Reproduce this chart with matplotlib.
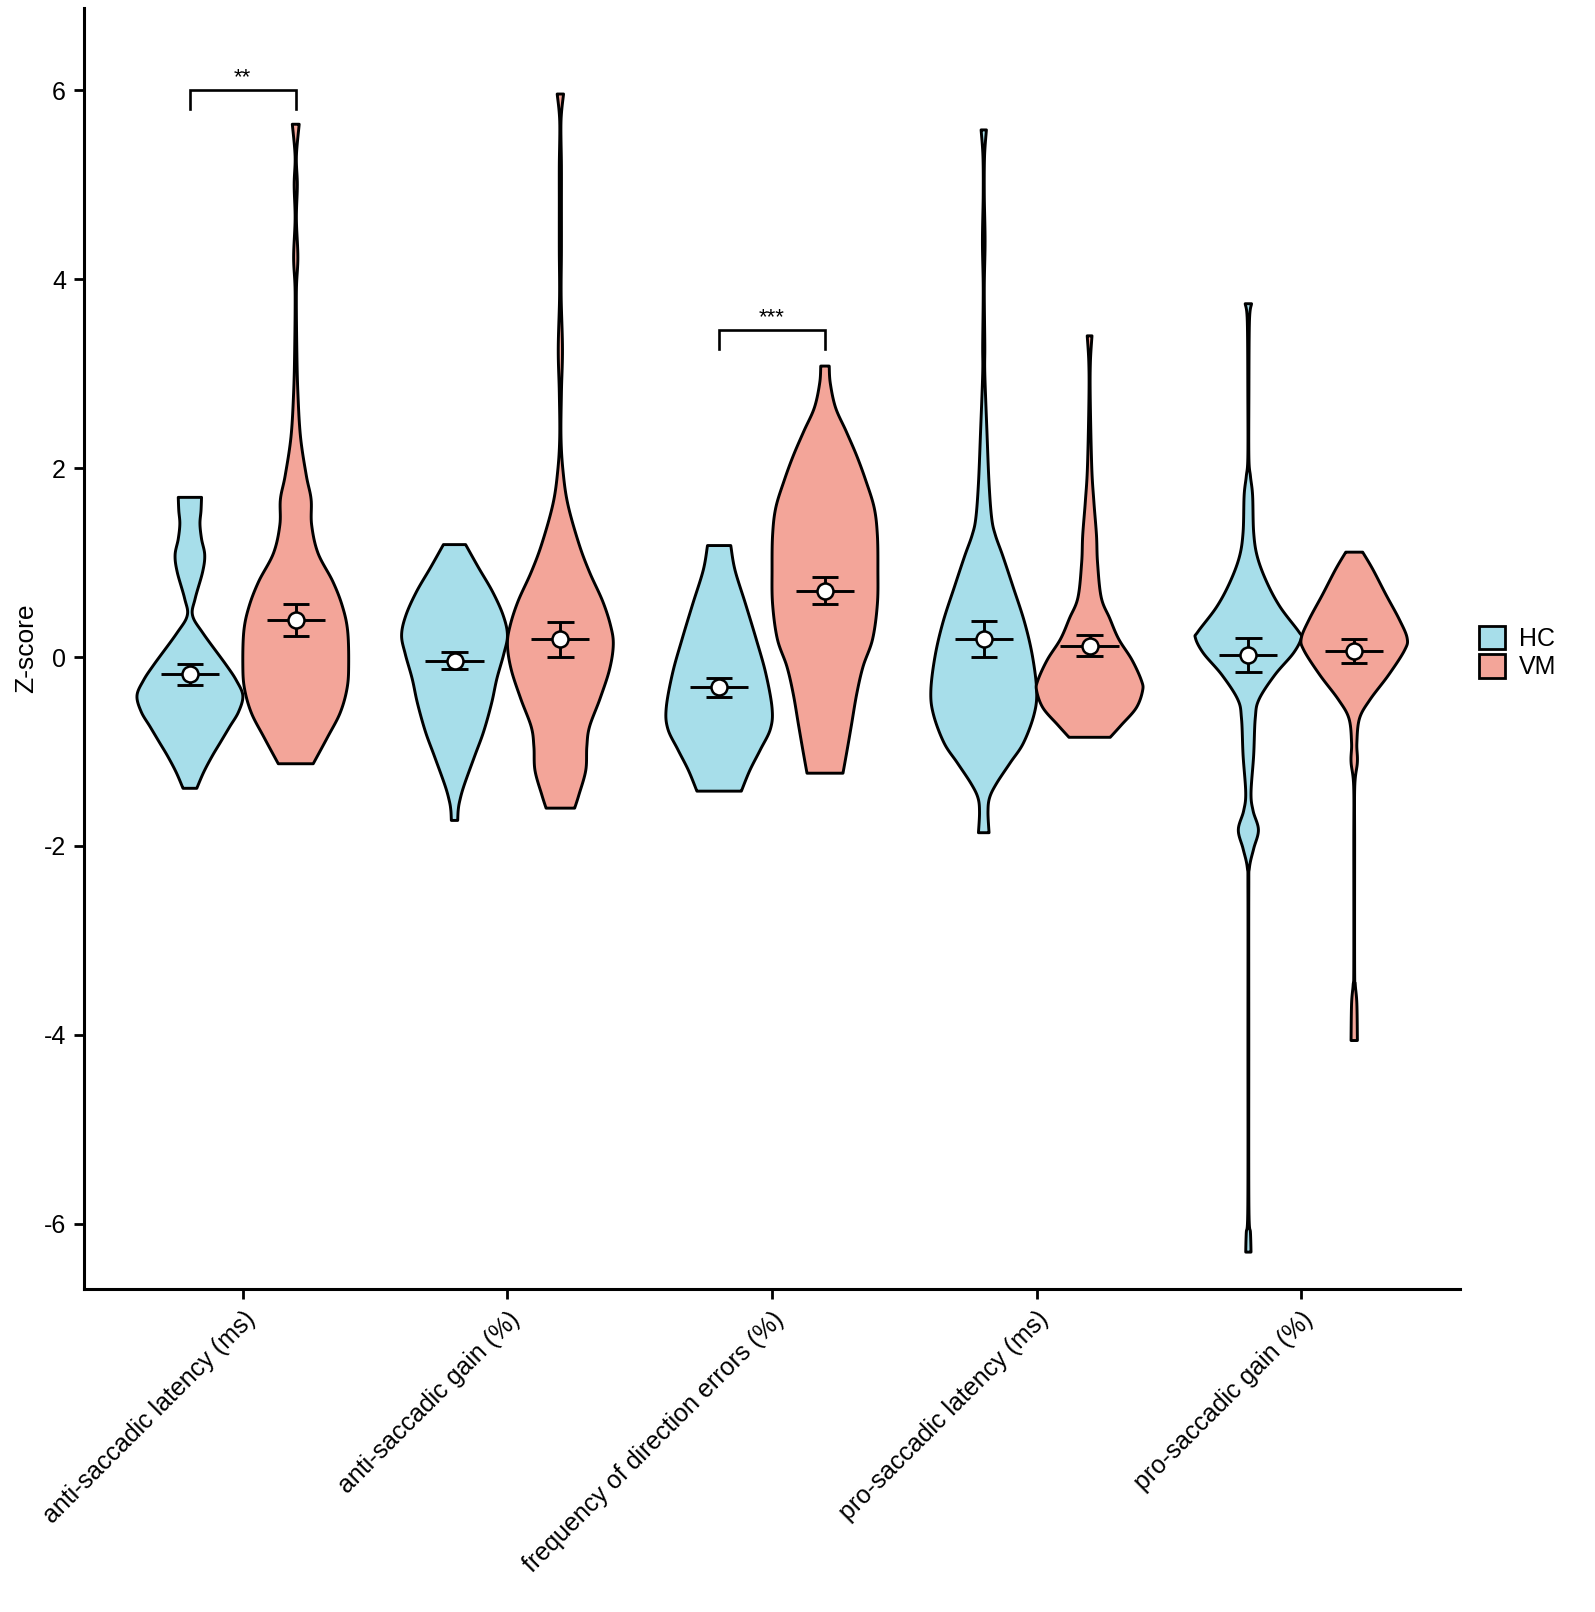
import numpy as np
import matplotlib
matplotlib.use("Agg")
import matplotlib.pyplot as plt
from matplotlib.patches import Patch

plt.rcParams['font.family'] = ['Liberation Sans', 'DejaVu Sans']

categories = ["anti-saccadic latency (ms)", "anti-saccadic gain (%)",
              "frequency of direction errors (%)", "pro-saccadic latency (ms)",
              "pro-saccadic gain (%)"]
groups = ["HC", "VM"]
colors = {"HC": "#A7DEEA", "VM": "#F3A599"}

# mean and error-bar limits (Z-score)
hc_mean = [-0.18, -0.04, -0.32, 0.19, 0.02]
hc_lo = [-0.30, -0.13, -0.42, 0.00, -0.16]
hc_hi = [-0.07, 0.05, -0.22, 0.38, 0.20]
vm_mean = [0.39, 0.19, 0.70, 0.12, 0.06]
vm_lo = [0.22, 0.00, 0.56, 0.01, -0.06]
vm_hi = [0.56, 0.37, 0.85, 0.23, 0.19]

# violin outlines: z levels (top to bottom) and relative half-widths
hc1_z = [1.69, 1.55, 1.41, 1.25, 1.08, 0.90, 0.62, 0.44, 0.25, -0.08, -0.25, -0.41, -0.58, -0.74, -0.90, -1.05, -1.22, -1.39]
hc1_w = [0.22, 0.21, 0.19, 0.22, 0.28, 0.24, 0.10, 0.05, 0.25, 0.68, 0.88, 1.00, 0.92, 0.75, 0.58, 0.42, 0.26, 0.13]
vm1_z = [5.64, 5.30, 5.00, 4.64, 4.23, 3.87, 3.26, 2.80, 2.33, 1.92, 1.67, 1.40, 1.10, 0.80, 0.54, 0.28, -0.08, -0.33, -0.59, -0.85, -1.13]
vm1_w = [0.065, 0.012, 0.03, 0.012, 0.04, 0.012, 0.02, 0.04, 0.09, 0.20, 0.29, 0.30, 0.42, 0.70, 0.88, 0.98, 1.00, 0.97, 0.84, 0.60, 0.33]
hc2_z = [1.19, 0.95, 0.69, 0.44, 0.23, 0.03, -0.23, -0.49, -0.79, -1.05, -1.36, -1.52, -1.62, -1.73]
hc2_w = [0.21, 0.45, 0.72, 0.92, 1.00, 0.93, 0.80, 0.70, 0.55, 0.38, 0.18, 0.10, 0.07, 0.06]
vm2_z = [5.96, 5.67, 5.20, 4.80, 4.30, 3.82, 3.26, 2.80, 2.33, 1.97, 1.62, 1.20, 0.90, 0.59, 0.33, 0.13, -0.13, -0.44, -0.74, -0.95, -1.20, -1.46, -1.60]
vm2_w = [0.06, 0.012, 0.02, 0.02, 0.02, 0.015, 0.04, 0.02, 0.012, 0.05, 0.14, 0.35, 0.55, 0.80, 0.95, 1.00, 0.93, 0.75, 0.55, 0.50, 0.48, 0.35, 0.27]
hc3_z = [1.18, 0.92, 0.56, 0.19, -0.17, -0.54, -0.76, -0.98, -1.20, -1.42]
hc3_w = [0.22, 0.30, 0.50, 0.70, 0.88, 1.00, 0.97, 0.78, 0.58, 0.42]
vm3_z = [3.08, 2.90, 2.64, 2.39, 2.13, 1.87, 1.58, 1.29, 0.92, 0.56, 0.19, -0.10, -0.39, -0.72, -0.98, -1.23]
vm3_w = [0.08, 0.10, 0.20, 0.40, 0.60, 0.77, 0.93, 0.99, 1.00, 0.99, 0.90, 0.72, 0.60, 0.50, 0.42, 0.34]
hc4_z = [5.58, 5.30, 4.90, 4.40, 3.90, 3.30, 3.00, 2.39, 1.84, 1.47, 1.29, 1.07, 0.75, 0.37, 0.01, -0.36, -0.61, -0.91, -1.12, -1.34, -1.49, -1.64, -1.86]
hc4_w = [0.05, 0.015, 0.01, 0.025, 0.01, 0.02, 0.02, 0.06, 0.10, 0.15, 0.22, 0.36, 0.55, 0.77, 0.92, 1.00, 0.95, 0.75, 0.50, 0.24, 0.11, 0.08, 0.10]
vm4_z = [3.40, 3.12, 2.75, 2.02, 1.65, 1.29, 1.00, 0.63, 0.41, 0.19, -0.03, -0.25, -0.36, -0.54, -0.72, -0.85]
vm4_w = [0.045, 0.015, 0.012, 0.04, 0.08, 0.13, 0.15, 0.22, 0.38, 0.55, 0.80, 0.98, 1.00, 0.88, 0.60, 0.39]
hc5_z = [3.74, 3.55, 2.76, 2.11, 1.91, 1.71, 1.32, 1.06, 0.79, 0.53, 0.27, 0.20, 0.04, -0.19, -0.45, -0.65, -1.04, -1.44, -1.63, -1.83, -2.03, -2.23, -2.49, -4.00, -5.80, -6.10, -6.30]
hc5_w = [0.06, 0.02, 0.01, 0.01, 0.04, 0.08, 0.10, 0.17, 0.35, 0.60, 0.95, 1.00, 0.85, 0.50, 0.20, 0.13, 0.10, 0.05, 0.09, 0.19, 0.10, 0.02, 0.008, 0.008, 0.01, 0.04, 0.05]
vm5_z = [1.11, 0.93, 0.66, 0.40, 0.20, 0.07, -0.19, -0.45, -0.65, -0.91, -1.11, -1.37, -2.00, -3.30, -3.47, -3.67, -4.06]
vm5_w = [0.16, 0.35, 0.60, 0.85, 1.00, 0.95, 0.65, 0.30, 0.10, 0.05, 0.06, 0.01, 0.008, 0.008, 0.02, 0.05, 0.06]

profiles = {"HC": [(hc1_z, hc1_w), (hc2_z, hc2_w), (hc3_z, hc3_w), (hc4_z, hc4_w), (hc5_z, hc5_w)],
            "VM": [(vm1_z, vm1_w), (vm2_z, vm2_w), (vm3_z, vm3_w), (vm4_z, vm4_w), (vm5_z, vm5_w)]}
means = {"HC": (hc_mean, hc_lo, hc_hi), "VM": (vm_mean, vm_lo, vm_hi)}

# significance brackets: (category index, label, y of bar)
sig_cat = [0, 2]
sig_label = ["**", "***"]
sig_y = [6.0, 3.46]

DODGE = 0.2
HALFW = 0.2
LW = 2.1


def catmull(z, w, n=10):
    z = np.asarray(z, float)
    w = np.asarray(w, float)
    P = np.column_stack([z, w])
    P = np.vstack([P[0], P, P[-1]])
    out = []
    for i in range(1, len(P) - 2):
        p0, p1, p2, p3 = P[i - 1], P[i], P[i + 1], P[i + 2]
        t = np.linspace(0, 1, n, endpoint=False)[:, None]
        seg = 0.5 * ((2 * p1) + (-p0 + p2) * t + (2 * p0 - 5 * p1 + 4 * p2 - p3) * t ** 2
                     + (-p0 + 3 * p1 - 3 * p2 + p3) * t ** 3)
        out.append(seg)
    out.append(P[-2][None, :])
    S = np.vstack(out)
    S[:, 1] = np.clip(S[:, 1], 0.004, None)
    return S[:, 0], S[:, 1]


fig = plt.figure(figsize=(15.95, 16.12), dpi=100)
ax = fig.add_axes([0.0527, 0.2004, 0.8627, 0.7946])

for gi, g in enumerate(groups):
    off = -DODGE if g == "HC" else DODGE
    for ci, (z, w) in enumerate(profiles[g]):
        c = ci + 1 + off
        zz, ww = catmull(z, w)
        xs = np.concatenate([c + ww * HALFW, (c - ww * HALFW)[::-1]])
        ys = np.concatenate([zz, zz[::-1]])
        ax.fill(xs, ys, facecolor=colors[g], edgecolor="black", linewidth=LW,
                joinstyle="round", zorder=2)
    m, lo, hi = means[g]
    xc = np.arange(1, 6) + off
    ax.hlines(m, xc - 0.11, xc + 0.11, color="black", lw=LW, zorder=3)
    ax.vlines(xc, lo, hi, color="black", lw=LW, zorder=3)
    ax.hlines(lo, xc - 0.05, xc + 0.05, color="black", lw=LW, zorder=3)
    ax.hlines(hi, xc - 0.05, xc + 0.05, color="black", lw=LW, zorder=3)
    ax.plot(xc, m, "o", ms=11.5, mfc="white", mec="black", mew=1.8, zorder=4, ls="none")

for ci, lab, yb in zip(sig_cat, sig_label, sig_y):
    x0, x1 = ci + 1 - DODGE, ci + 1 + DODGE
    ax.plot([x0, x0, x1, x1], [yb - 0.2, yb, yb, yb - 0.2], color="black", lw=1.9,
            solid_joinstyle="miter", zorder=3)
    ax.text(ci + 1, yb + 0.02, lab, ha="center", va="bottom", fontsize=16)

ax.set_xlim(0.4, 5.6)
ax.set_ylim(-6.69, 6.87)
ax.set_xticks(np.arange(1, 6))
ax.set_xticklabels(categories, rotation=45, ha="right", va="top",
                   rotation_mode="anchor", fontsize=18)
ax.set_yticks([-6, -4, -2, 0, 2, 4, 6])
ax.set_yticklabels(["-6", "-4", "-2", "0", "2", "4", "6"], fontsize=18)
ax.tick_params(axis="both", length=7, width=2.0, color="black", pad=6)
ax.set_ylabel("Z-score", fontsize=19, labelpad=4)
for s in ["top", "right"]:
    ax.spines[s].set_visible(False)
for s in ["left", "bottom"]:
    ax.spines[s].set_linewidth(2.2)

handles = [Patch(facecolor=colors[g], edgecolor="black", linewidth=2.0, label=g) for g in groups]
fig.legend(handles=handles, loc="center left", bbox_to_anchor=(0.921, 0.595),
           frameon=False, fontsize=18, handlelength=1.05, handleheight=1.05,
           labelspacing=0.12, handletextpad=0.55, borderaxespad=0)

fig.savefig("out.png", dpi=100)
